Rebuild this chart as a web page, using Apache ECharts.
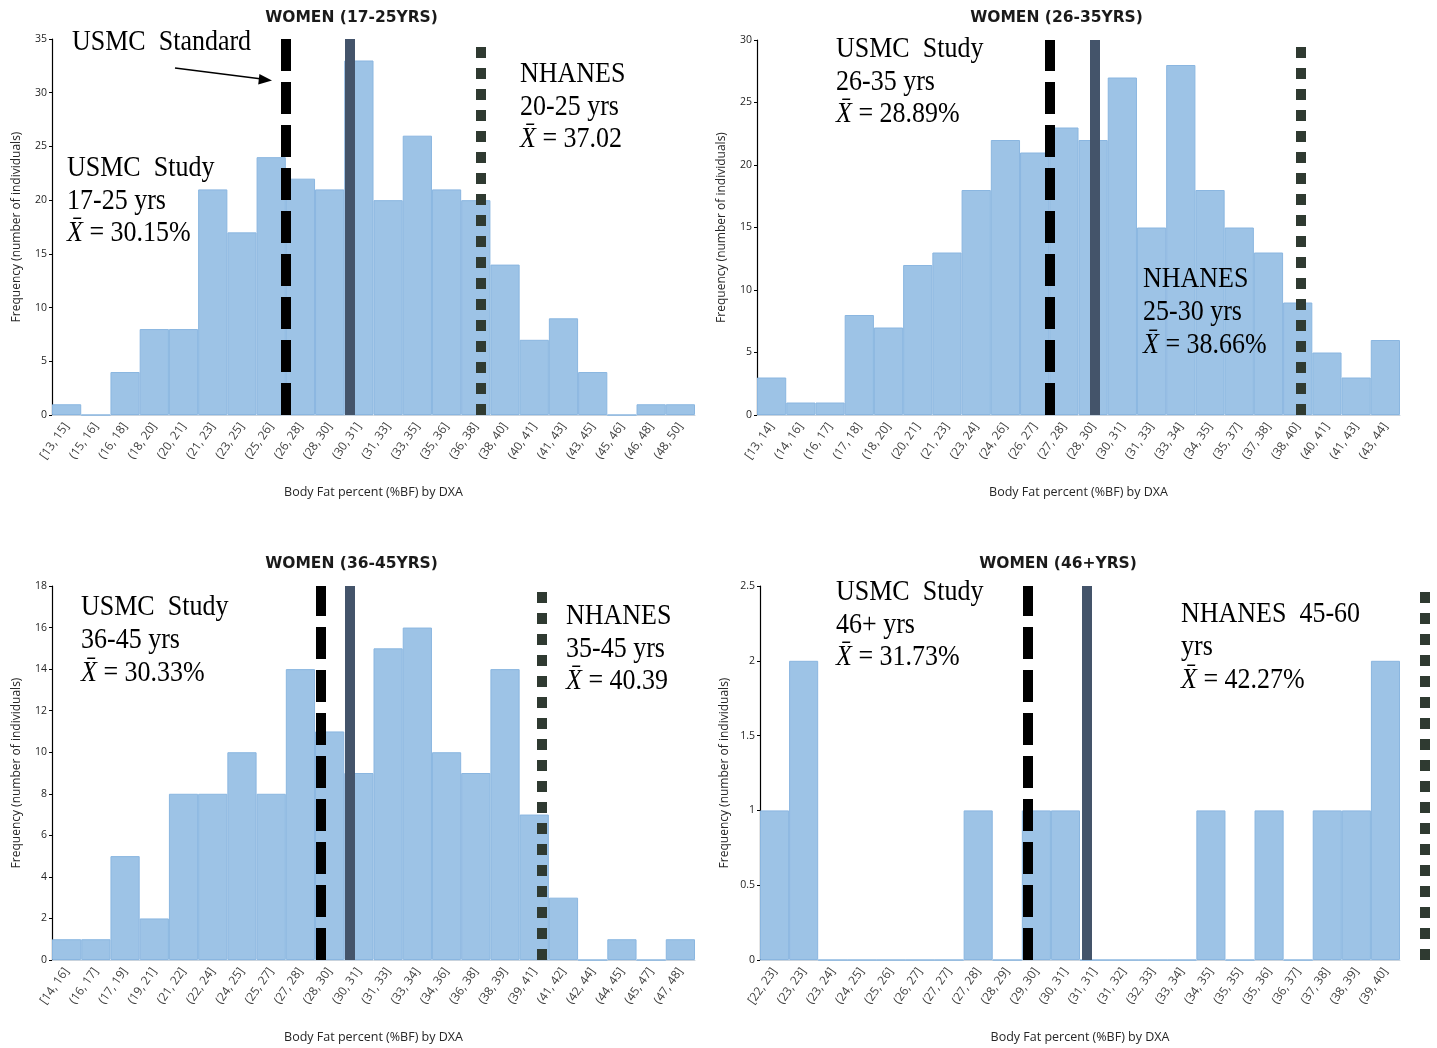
<!DOCTYPE html>
<html>
<head>
<meta charset="UTF-8">
<title>Body fat histograms</title>
<style>
    body { margin: 0; background: #ffffff; }
    #main { width: 1437px; height: 1048px; }
</style>
<script src="https://cdn.jsdelivr.net/npm/echarts@6/dist/echarts.min.js"></script>
</head>
<body>
<div id="main"></div>
<script type="text/javascript">
// bin labels (body fat %) and counts for each age group
var cats1 = ['[13, 15]','(15, 16]','(16, 18]','(18, 20]','(20, 21]','(21, 23]','(23, 25]','(25, 26]','(26, 28]','(28, 30]','(30, 31]',
    '(31, 33]','(33, 35]','(35, 36]','(36, 38]','(38, 40]','(40, 41]','(41, 43]','(43, 45]','(45, 46]','(46, 48]','(48, 50]'];
var vals1 = [1, 0, 4, 8, 8, 21, 17, 24, 22, 21, 33, 20, 26, 21, 20, 14, 7, 9, 4, 0, 1, 1];

var cats2 = ['[13, 14]','(14, 16]','(16, 17]','(17, 18]','(18, 20]','(20, 21]','(21, 23]','(23, 24]','(24, 26]','(26, 27]','(27, 28]',
    '(28, 30]','(30, 31]','(31, 33]','(33, 34]','(34, 35]','(35, 37]','(37, 38]','(38, 40]','(40, 41]','(41, 43]','(43, 44]'];
var vals2 = [3, 1, 1, 8, 7, 12, 13, 18, 22, 21, 23, 22, 27, 15, 28, 18, 15, 13, 9, 5, 3, 6];

var cats3 = ['[14, 16]','(16, 17]','(17, 19]','(19, 21]','(21, 22]','(22, 24]','(24, 25]','(25, 27]','(27, 28]','(28, 30]','(30, 31]',
    '(31, 33]','(33, 34]','(34, 36]','(36, 38]','(38, 39]','(39, 41]','(41, 42]','(42, 44]','(44, 45]','(45, 47]','(47, 48]'];
var vals3 = [1, 1, 5, 2, 8, 8, 10, 8, 14, 11, 9, 15, 16, 10, 9, 14, 7, 3, 0, 1, 0, 1];

var cats4 = ['[22, 23]','(23, 23]','(23, 24]','(24, 25]','(25, 26]','(26, 27]','(27, 27]','(27, 28]','(28, 29]','(29, 30]','(30, 31]',
    '(31, 31]','(31, 32]','(32, 33]','(33, 34]','(34, 35]','(35, 35]','(35, 36]','(36, 37]','(37, 38]','(38, 39]','(39, 40]'];
var vals4 = [1, 2, 0, 0, 0, 0, 0, 1, 0, 1, 1, 0, 0, 0, 0, 1, 0, 1, 0, 1, 1, 2];

// reference lines, in bin-index units: [USMC standard, USMC mean, NHANES mean]
var lines1 = [8.0, 10.2, 14.66];
var lines2 = [10.0, 11.57, 18.6];
var lines3 = [9.2, 10.2, 16.75];
var lines4 = [9.2, 11.24, 22.85];

var yMax = [35, 30, 18, 2.5];
var yStep = [5, 5, 2, 0.5];
var titles = ['WOMEN (17-25YRS)', 'WOMEN (26-35YRS)', 'WOMEN (36-45YRS)', 'WOMEN (46+YRS)'];

var cats = [cats1, cats2, cats3, cats4];
var vals = [vals1, vals2, vals3, vals4];
var lines = [lines1, lines2, lines3, lines4];

var grids = [
    { left: 52, top: 39, width: 643, height: 376 },
    { left: 757, top: 40, width: 643, height: 375 },
    { left: 52, top: 586, width: 643, height: 374 },
    { left: 760, top: 586, width: 640, height: 374 }
];
// the NHANES line of the last panel sits right of the plot, so the
// reference lines get their own, slightly wider grid on the same bin scale
var LINE_SPAN = 23;

var myChart = echarts.init(document.getElementById('main'));

var gridList = [], xAxes = [], yAxes = [], series = [], titleList = [];
for (var i = 0; i < 4; i++) {
    var g = grids[i];
    var n = cats[i].length;
    gridList.push(g);
    gridList.push({ left: g.left, top: g.top, height: g.height, width: g.width * LINE_SPAN / n });
    titleList.push({
        text: titles[i],
        left: g.left + g.width / 2 - 27,
        top: i < 2 ? 5 : 551,
        textAlign: 'center',
        textStyle: { fontFamily: 'DejaVu Sans', fontWeight: 'bold', fontSize: 15.5, color: '#1a1a1a' }
    });
    xAxes.push({
        type: 'category', gridIndex: i * 2, data: cats[i],
        name: 'Body Fat percent (%BF) by DXA', nameLocation: 'middle', nameGap: 71,
        nameTextStyle: { fontFamily: 'Open Sans', fontSize: 12.5, color: '#262626' },
        axisLine: { lineStyle: { color: '#c9d3dd', width: 1 } },
        axisTick: { show: false },
        axisLabel: { interval: 0, rotate: 55, fontFamily: 'Open Sans', fontSize: 12, color: '#404040', margin: 9 }
    });
    xAxes.push({ type: 'value', gridIndex: i * 2 + 1, min: 0, max: LINE_SPAN, show: false });
    yAxes.push({
        type: 'value', gridIndex: i * 2, min: 0, max: yMax[i], interval: yStep[i],
        name: 'Frequency (number of individuals)', nameLocation: 'middle', nameGap: 29,
        nameTextStyle: { fontFamily: 'Open Sans', fontSize: 12, color: '#262626' },
        axisLine: { show: true, lineStyle: { color: '#000', width: 1.2 } },
        axisTick: { show: true, length: 3, lineStyle: { color: '#000' } },
        axisLabel: { fontFamily: 'Open Sans', fontSize: 10.5, color: '#262626', margin: 5 },
        splitLine: { show: false }
    });
    yAxes.push({ type: 'value', gridIndex: i * 2 + 1, min: 0, max: 1, show: false });
    series.push({
        type: 'bar', xAxisIndex: i * 2, yAxisIndex: i * 2, data: vals[i],
        barCategoryGap: 0,
        itemStyle: { color: '#9dc3e6', borderColor: '#8ab6e0', borderWidth: 1 },
        silent: true
    });
    series.push({
        type: 'line', xAxisIndex: i * 2 + 1, yAxisIndex: i * 2 + 1, data: [],
        silent: true, z: 5,
        markLine: {
            silent: true, symbol: 'none', label: { show: false }, animation: false,
            emphasis: { disabled: true },
            data: [
                { xAxis: lines[i][0], lineStyle: { color: '#000000', width: 10, type: [32, 11] } },
                { xAxis: lines[i][1], lineStyle: { color: '#44546a', width: 10, type: 'solid' } },
                { xAxis: lines[i][2], lineStyle: { color: '#2f3a31', width: 10, type: [11, 10] } }
            ]
        }
    });
}

// annotation text blocks (the figure's serif text is drawn a little tall)
var serif = '26px "Liberation Serif"';
function note(x, y, text) {
    return {
        type: 'text', x: x, y: y, scaleY: 1.15, silent: true, z: 100,
        style: {
            text: text, font: serif, fill: '#000', verticalAlign: 'middle',
            rich: { i: { font: 'italic 26px "Liberation Serif"' }, n: { font: serif } }
        }
    };
}
var notes = [
    note(72, 42, 'USMC  Standard'),
    note(67, 168, 'USMC  Study'), note(67, 201, '17-25 yrs'), note(67, 233, '{i|X\u0304}{n| = 30.15%}'),
    note(520, 74, 'NHANES'), note(520, 107, '20-25 yrs'), note(520, 139, '{i|X\u0304}{n| = 37.02}'),
    note(836, 49, 'USMC  Study'), note(836, 82, '26-35 yrs'), note(836, 114, '{i|X\u0304}{n| = 28.89%}'),
    note(1143, 279, 'NHANES'), note(1143, 312, '25-30 yrs'), note(1143, 345, '{i|X\u0304}{n| = 38.66%}'),
    note(81, 607, 'USMC  Study'), note(81, 640, '36-45 yrs'), note(81, 673, '{i|X\u0304}{n| = 30.33%}'),
    note(566, 616, 'NHANES'), note(566, 649, '35-45 yrs'), note(566, 681, '{i|X\u0304}{n| = 40.39}'),
    note(836, 592, 'USMC  Study'), note(836, 625, '46+ yrs'), note(836, 657, '{i|X\u0304}{n| = 31.73%}'),
    note(1181, 614, 'NHANES  45-60'), note(1181, 647, 'yrs'), note(1181, 680, '{i|X\u0304}{n| = 42.27%}')
];
// arrow pointing at the USMC standard line
notes.push({ type: 'line', silent: true, z: 100, shape: { x1: 175, y1: 68, x2: 262, y2: 79 }, style: { stroke: '#000', lineWidth: 1.5 } });
notes.push({ type: 'polygon', silent: true, z: 100, shape: { points: [[272, 80.5], [259.4, 74], [258.2, 84.5]] }, style: { fill: '#000' } });

var option = {
    backgroundColor: '#ffffff',
    animation: false,
    title: titleList,
    grid: gridList,
    xAxis: xAxes,
    yAxis: yAxes,
    series: series,
    graphic: notes
};
myChart.setOption(option);
</script>
</body>
</html>
